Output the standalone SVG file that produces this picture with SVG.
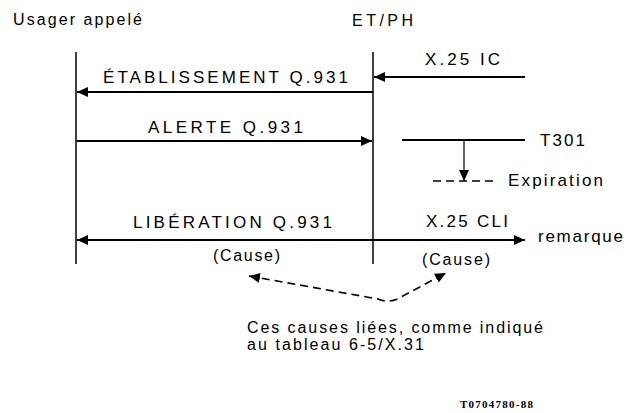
<svg xmlns="http://www.w3.org/2000/svg" width="627" height="413" viewBox="0 0 627 413">
<style>
text { font-family: "Liberation Sans", Arial, sans-serif; font-size: 17px; fill: #000; }
.small { font-size: 16px; }
.ref { font-family: "Liberation Serif", "Times New Roman", serif; font-size: 11px; font-weight: bold; }
.life { stroke: #000; stroke-width: 1.5; fill: none; }
.msg { stroke: #000; stroke-width: 2; fill: none; }
.thin { stroke: #000; stroke-width: 1.2; fill: none; }
.dash { stroke: #000; stroke-width: 1.6; fill: none; stroke-dasharray: 8 5; }
</style>
<defs>
<marker id="ah" markerUnits="userSpaceOnUse" markerWidth="12" markerHeight="10" refX="11" refY="5" orient="auto-start-reverse">
<path d="M0,0 L11,5 L0,10 z" fill="#000"/>
</marker>
</defs>
<g id="lifelines">
<g id="usager">
<text class="small" x="13" y="25" textLength="129" lengthAdjust="spacing">Usager appelé</text>
<line class="life" x1="76" y1="52" x2="76" y2="264"/>
</g>
<g id="etph">
<text class="small" x="352" y="26" textLength="61" lengthAdjust="spacing">ET/PH</text>
<line class="life" x1="373" y1="52" x2="373" y2="264"/>
</g>
</g>
<g id="connectors">
<line class="msg" x1="373" y1="92" x2="77" y2="92" marker-end="url(#ah)"/>
<line class="msg" x1="525" y1="77" x2="374" y2="77" marker-end="url(#ah)"/>
<line class="msg" x1="77" y1="141" x2="372" y2="141" marker-end="url(#ah)"/>
<line class="msg" x1="402" y1="140" x2="525" y2="140"/>
<line class="thin" x1="464" y1="140" x2="464" y2="181" marker-end="url(#ah)"/>
<line class="dash" x1="433" y1="181" x2="495" y2="181" stroke-dasharray="11 6"/>
<line class="msg" x1="77" y1="240" x2="525" y2="240" marker-start="url(#ah)" marker-end="url(#ah)"/>
<path class="dash" d="M249,276 L378,299 Q390,304 401,297 L446,273" marker-start="url(#ah)" marker-end="url(#ah)"/>
</g>
<g id="labels">
<text x="103" y="83" textLength="245" lengthAdjust="spacing">ÉTABLISSEMENT Q.931</text>
<text x="425" y="65" textLength="75" lengthAdjust="spacing">X.25 IC</text>
<text x="148" y="133" textLength="155" lengthAdjust="spacing">ALERTE Q.931</text>
<text x="540" y="146" textLength="45" lengthAdjust="spacing">T301</text>
<text x="508" y="186" textLength="95" lengthAdjust="spacing">Expiration</text>
<text x="133" y="228" textLength="199" lengthAdjust="spacing">LIBÉRATION Q.931</text>
<text x="426" y="227" textLength="82" lengthAdjust="spacing">X.25 CLI</text>
<text x="538" y="242" textLength="85" lengthAdjust="spacing">remarque</text>
<text class="small" x="213" y="261" textLength="67" lengthAdjust="spacing">(Cause)</text>
<text class="small" x="422" y="265" textLength="68" lengthAdjust="spacing">(Cause)</text>
<text class="small" x="247" y="333" textLength="296" lengthAdjust="spacing">Ces causes liées, comme indiqué</text>
<text class="small" x="247" y="350" textLength="177" lengthAdjust="spacing">au tableau 6-5/X.31</text>
<text class="ref" x="460" y="408" textLength="73" lengthAdjust="spacing">T0704780-88</text>
</g>
</svg>
